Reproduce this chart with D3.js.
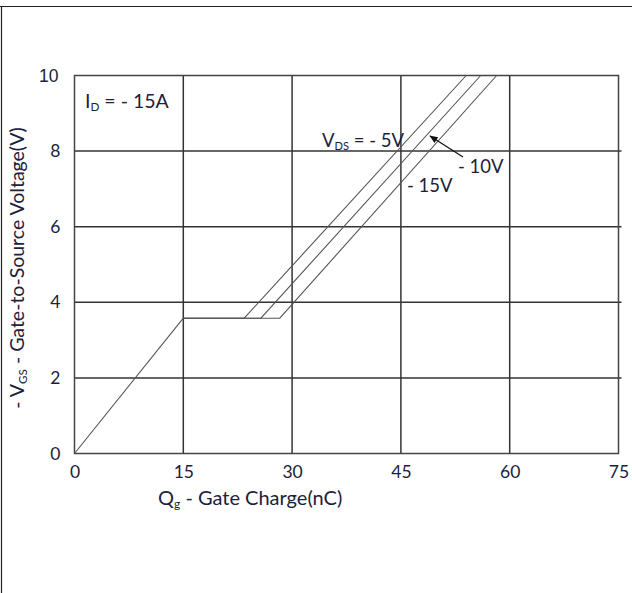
<!DOCTYPE html>
<html>
<head>
<meta charset="UTF-8">
<title>Gate Charge</title>
<script src="https://cdn.jsdelivr.net/npm/d3@7"></script>
<style>
  body { margin: 0; background: #fff; }
  text { font-family: Lato, "Open Sans", sans-serif; fill: #1c2238; }
</style>
</head>
<body>
<script>
// values
var xTicks = [0, 15, 30, 45, 60, 75];
var yTicks = [0, 2, 4, 6, 8, 10];
var riseQ = [0, 15];          // common linear rise, nC
var riseV = [0, 3.58];        // V
var plateauV = 3.58;
var seriesVds = ["-5V", "-10V", "-15V"];
var plateauEndQ = [23.4, 25.7, 28.3];
var topQ = [54.0, 56.0, 58.2];
var topV = 10;

var W = 632, H = 593;
var svg = d3.select("body").append("svg").attr("width", W).attr("height", H);

// outer frame (top and left only)
svg.append("line").attr("x1", 0).attr("x2", W).attr("y1", 6.5).attr("y2", 6.5)
    .attr("stroke", "#222").attr("stroke-width", 1.2);
svg.append("line").attr("x1", 1.5).attr("x2", 1.5).attr("y1", 6).attr("y2", H)
    .attr("stroke", "#222").attr("stroke-width", 1.2);

var x = d3.scaleLinear().domain([0, 75]).range([74.5, 618.5]);
var y = d3.scaleLinear().domain([0, 10]).range([453.5, 75.5]);

// grid
svg.selectAll(".vg").data(xTicks.slice(1, -1)).enter().append("line")
    .attr("x1", function (d) { return x(d); }).attr("x2", function (d) { return x(d); })
    .attr("y1", y(10)).attr("y2", y(0))
    .attr("stroke", "#333").attr("stroke-width", 1.5);
svg.selectAll(".hg").data(yTicks.slice(1, -1)).enter().append("line")
    .attr("x1", x(0)).attr("x2", x(75) + 3)
    .attr("y1", function (d) { return y(d); }).attr("y2", function (d) { return y(d); })
    .attr("stroke", "#333").attr("stroke-width", 1.5);
svg.append("rect").attr("x", x(0)).attr("y", y(10))
    .attr("width", x(75) - x(0)).attr("height", y(0) - y(10))
    .attr("fill", "none").attr("stroke", "#444").attr("stroke-width", 1.5);

// axes (labels only)
var yAxis = svg.append("g").attr("transform", "translate(" + x(0) + ",0)")
    .call(d3.axisLeft(y).tickValues(yTicks).tickSize(0).tickPadding(14));
var xAxis = svg.append("g").attr("transform", "translate(0," + y(0) + ")")
    .call(d3.axisBottom(x).tickValues(xTicks).tickSize(0).tickPadding(12));
[yAxis, xAxis].forEach(function (g) {
    g.select(".domain").remove();
    g.selectAll("text").style("font-family", "Lato, sans-serif").style("font-size", "17.5px")
        .attr("fill", "#1c2238");
});
yAxis.selectAll("text").filter(function (d) { return d === 10; })
    .style("font-family", "Liberation Sans, Arial, sans-serif").attr("fill", "#111").attr("dx", -2);

// curves
var line = d3.line().x(function (d) { return x(d[0]); }).y(function (d) { return y(d[1]); });
svg.append("path").datum(riseQ.map(function (q, i) { return [q, riseV[i]]; }))
    .attr("d", line).attr("fill", "none").attr("stroke", "#555").attr("stroke-width", 1.1);
seriesVds.forEach(function (s, i) {
    var pts = [[riseQ[1], plateauV], [plateauEndQ[i], plateauV], [topQ[i], topV]];
    svg.append("path").datum(pts).attr("d", line)
        .attr("fill", "none").attr("stroke", "#555").attr("stroke-width", 1.1);
});

// annotations
function subText(xp, yp, parts, size) {
    var t = svg.append("text").attr("x", xp).attr("y", yp).style("font-size", size + "px");
    parts.forEach(function (p) {
        var ts = t.append("tspan").text(p[0]);
        if (p[1]) ts.style("font-size", (size * 0.6) + "px").attr("dy", 3);
        else if (p[2]) ts.attr("dy", -3);
    });
    return t;
}
subText(85, 108, [["I"], ["D", true], [" = - 15A", false, true]], 19.5);
subText(322, 147, [["V"], ["DS", true], ["  = - 5V", false, true]], 18.5);
svg.append("text").attr("x", 458).attr("y", 173).style("font-size", "18.5px").text("- 10V");
svg.append("text").attr("x", 407).attr("y", 192).style("font-size", "18.5px").text("- 15V");

svg.append("defs").append("marker").attr("id", "ah").attr("viewBox", "0 0 10 10")
    .attr("refX", 9).attr("refY", 5).attr("markerWidth", 9).attr("markerHeight", 7)
    .attr("orient", "auto").append("path").attr("d", "M0,1 L10,5 L0,9 Z").attr("fill", "#111");
svg.append("line").attr("x1", 463).attr("y1", 157).attr("x2", 430).attr("y2", 136)
    .attr("stroke", "#111").attr("stroke-width", 1.2).attr("marker-end", "url(#ah)");

// axis titles
subText(158, 505, [["Q"], ["g", true], [" - Gate Charge(nC)", false, true]], 20);
subText(0, 0, [["- V"], ["GS", true], [" - Gate-to-Source Voltage(V)", false, true]], 19.5)
    .attr("text-anchor", "middle").attr("transform", "translate(24,268) rotate(-90)");
</script>
</body>
</html>
